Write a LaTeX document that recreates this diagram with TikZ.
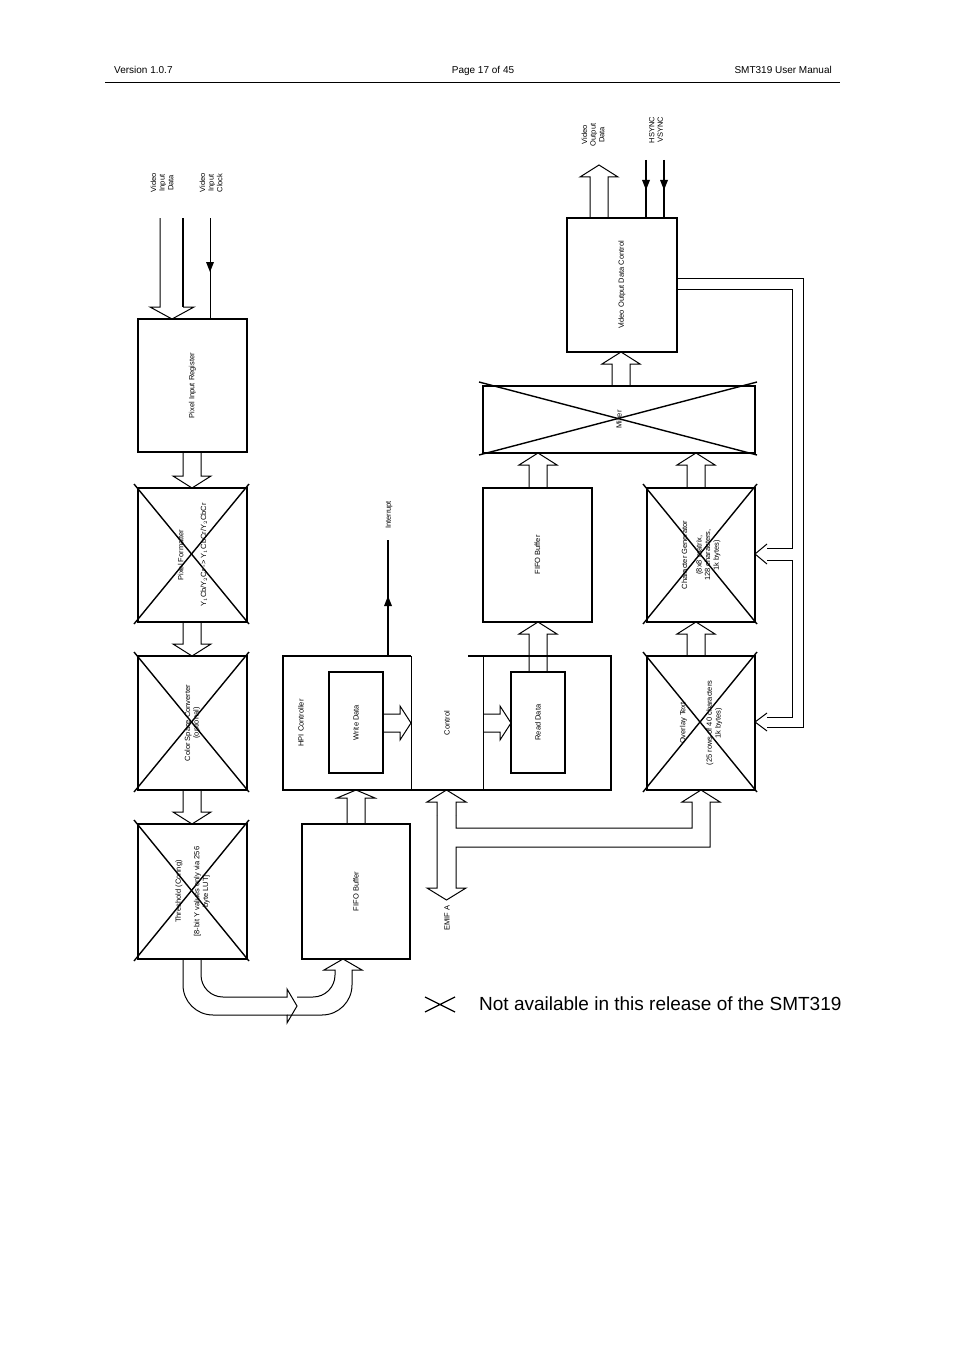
\documentclass[tikz,border=0pt]{standalone}
\usepackage{fontspec}
\setmainfont{Liberation Sans}
\begin{document}
\begin{tikzpicture}[x=1pt,y=-1pt,
  blk/.style={draw,line width=1.2pt},
  crs/.style={line width=1.4pt},
  lbl/.style={rotate=90,font=\fontsize{7.5}{8.6}\selectfont,align=center,inner sep=0pt},
  hd/.style={font=\fontsize{10}{12}\selectfont,inner sep=0pt,anchor=base},
  ln/.style={line width=1pt,line join=miter}]
\useasboundingbox (0,0) rectangle (954,1351);
\fill[white] (0,0) rectangle (954,1351);
% header
\node[hd,anchor=base west] (h1) at (114,74) {Version 1.0.7};
\node[hd] (h2) at (483,74) {Page 17 of 45};
\node[hd,anchor=base east] (h3) at (832,74) {SMT319 User Manual};
\draw[line width=0.6pt] (105,82) -- (840,82);
% hollow arrow macros
\newcommand\hav[5]{% xl xr ystart ybase ytip
  \draw[ln] (#1,#3)--(#1,#4)--(#1-10,#4)--({(#1+#2)/2},#5)--(#2+10,#4)--(#2,#4)--(#2,#3);}
\newcommand\hah[5]{% yt yb xstart xbase xtip
  \draw[ln] (#3,#1)--(#4,#1)--(#4,#1-8)--(#5,{(#1+#2)/2})--(#4,#2+8)--(#4,#2)--(#3,#2);}
% boxes
\newcommand\bx[6]{\draw[blk] (#2,#3) rectangle (#4,#5); \node[lbl] (#1) at ({(#2+#4)/2},{(#3+#5)/2}) {#6};}
\newcommand\cx[4]{\draw[crs] (#1-4,#2-4)--(#3+2,#4+2); \draw[crs] (#3+2,#2-4)--(#1-4,#4+2);}
\bx{pir}{138}{319}{247}{452}{Pixel Input Register}
\bx{pf}{138}{488}{247}{622}{Pixel Formatter\\[14pt] Y$_1$Cb/Y$_2$Cr -> Y$_1$CbCr/Y$_2$CbCr}
\cx{138}{488}{247}{622}
\bx{csc}{138}{656}{247}{790}{Color Space Converter\\(optional)}
\cx{138}{656}{247}{790}
\bx{thr}{138}{824}{247}{959}{Threshold (Coring)\\[10pt][8-bit Y values only via 256\\byte LUT]}
\cx{138}{824}{247}{959}
\bx{fifo1}{302}{824}{410}{959}{FIFO Buffer}
\bx{fifo2}{483}{488}{592}{622}{FIFO Buffer}
\bx{mix}{483}{386}{755}{453}{Mixer}
\cx{483}{386}{755}{453}
\bx{cg}{647}{488}{755}{622}{Character Generator\\[6pt](8x8 matrix,\\128 characters,\\1k bytes)}
\cx{647}{488}{755}{622}
\bx{ot}{647}{656}{755}{790}{Overlay Text\\[18pt](25 rows of 40 characters\\1k bytes)}
\cx{647}{656}{755}{790}
\bx{vodc}{567}{218}{677}{352}{Video Output Data Control}
% HPI
\draw[blk] (411,656)--(283,656)--(283,790)--(611,790)--(611,656)--(468,656);
\draw[line width=0.8pt] (411,656)--(411,790);
\draw[line width=0.8pt] (483,656)--(483,790);
\node[lbl] (hpi) at (301,723) {HPI Controller};
\node[lbl] (ctl) at (447,723) {Control};
\bx{wd}{329}{672}{383}{773}{Write Data}
\bx{rd}{511}{672}{565}{773}{Read Data}
\hah{714}{732}{383}{400}{411}
\hah{714}{732}{483}{500}{511}
% interrupt
\draw[line width=1.3pt] (388,656)--(388,540);
\fill (388,596)--(384,606)--(392,606)--cycle;
\node[lbl] (int) at (389,515) {Interrupt};
% inputs
\node[lbl] (vid) at (162,183) {Video\\Input\\Data};
\node[lbl] (vic) at (211,183) {Video\\Input\\Clock};
\draw[ln] (160,218)--(160,307)--(150,307)--(172,319);
\draw[line width=1.8pt] (183,218)--(183,307);
\draw[ln] (183,307)--(194,307)--(172,319);
\draw[line width=0.9pt] (210,218)--(210,319);
\fill (210,272)--(206,262)--(214,262)--cycle;
% chain arrows
\hav{183}{201}{452}{476}{488}
\hav{183}{201}{622}{644}{656}
\hav{183}{201}{790}{812}{824}
\hav{529}{547}{672}{634}{622}
\hav{529}{547}{488}{465}{453}
\hav{687}{705}{488}{465}{453}
\hav{687}{705}{656}{634}{622}
\hav{612}{630}{386}{364}{352}
\hav{347}{365}{824}{798}{790}
\hav{590}{608}{218}{177}{165}
% sync
\node[lbl] (vod) at (593,135) {Video\\Output\\Data};
\node[lbl] (sync) at (656,130) {HSYNC\\VSYNC};
\draw[line width=1.3pt] (646,160)--(646,218) (664,160)--(664,218);
\fill (646,190)--(642,180)--(650,180)--cycle (664,190)--(660,180)--(668,180)--cycle;
% feedback
\draw[ln] (677,278)--(803,278)--(803,727)--(767,727);
\draw[ln] (677,289)--(792,289)--(792,548)--(767,548);
\draw[ln] (767,560)--(792,560)--(792,717)--(767,717);
\draw[ln] (767,544)--(755,554)--(767,564);
\draw[ln] (767,713)--(755,722)--(767,731);
% threshold -> fifo
\draw[ln] (183,959)--(183,985) arc[start angle=180,end angle=90,radius=30] -- (287,1015)--(287,1023)--(297,1006)--(287,989)--(287,997)--(223,997) arc[start angle=90,end angle=180,radius=22] --(201,959);
\draw[ln] (287,1015)--(322,1015) arc[start angle=90,end angle=0,radius=30]--(352,970)--(362,970)--(343,959)--(324,970)--(335,970)--(335,975) arc[start angle=0,end angle=90,radius=22]--(297,997);
% EMIF
\hav{437}{456}{815}{802}{790}
\draw[ln] (437,815)--(437,888)--(427,888)--(446.5,900)--(466,888)--(456,888)--(456,847)--(710,847)--(710,802)--(720,802)--(701,790)--(682,802)--(692,802)--(692,828)--(456,828)--(456,815);
\node[lbl] (emif) at (447,918) {EMIF A};
% legend
\draw[line width=1.3pt] (425,997)--(455,1012) (425,1012)--(455,997);
\node[anchor=west,inner sep=0pt,font=\fontsize{19}{22}\selectfont] (leg) at (479,1004) {Not available in this release of the SMT319};
\end{tikzpicture}
\end{document}
